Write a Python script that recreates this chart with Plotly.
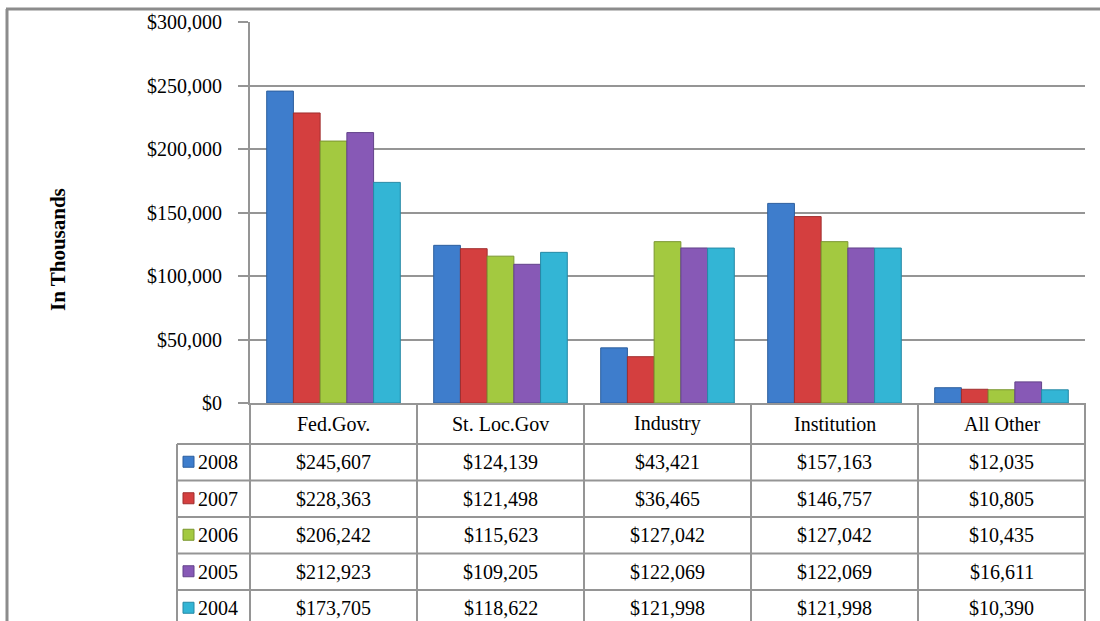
import plotly.graph_objects as go

categories = ["Fed.Gov.", "St. Loc.Gov", "Industry", "Institution", "All Other"]
years = ["2008", "2007", "2006", "2005", "2004"]
values_2008 = [245607, 124139, 43421, 157163, 12035]
values_2007 = [228363, 121498, 36465, 146757, 10805]
values_2006 = [206242, 115623, 127042, 127042, 10435]
values_2005 = [212923, 109205, 122069, 122069, 16611]
values_2004 = [173705, 118622, 121998, 121998, 10390]
series = [values_2008, values_2007, values_2006, values_2005, values_2004]

bar_colors = ["#3e7dcc", "#d43f3f", "#a3c940", "#8759b6", "#33b5d5"]
edge_colors = ["#2d5f9e", "#a02e2e", "#7a962f", "#63438a", "#2689a6"]

W, H = 1100, 621
L, R, T, B = 250, 1085, 22, 403
GRID = "#959595"
FONT = "Liberation Serif"
FS = 20


def px_x(x):
    return (x - L) / (R - L)


def px_y(y):
    return (B - y) / (B - T)


fig = go.Figure()
for year, vals, col, edge in zip(years, series, bar_colors, edge_colors):
    fig.add_trace(go.Bar(
        x=categories, y=vals, name=year,
        marker=dict(color=col, line=dict(color=edge, width=1)),
    ))

shapes = []
ann = []

# outer frame
shapes.append(dict(type="line", xref="paper", yref="paper",
                   x0=px_x(7), x1=px_x(7), y0=px_y(H), y1=px_y(9),
                   line=dict(color="#8c8c8c", width=3)))
shapes.append(dict(type="line", xref="paper", yref="paper",
                   x0=px_x(6), x1=px_x(W), y0=px_y(9), y1=px_y(9),
                   line=dict(color="#8c8c8c", width=3)))

# data table grid
col_w = (R - L) / len(categories)
header_bottom = 444
row_h = 36.5
for k in range(len(categories) + 1):
    x = L + col_w * k
    shapes.append(dict(type="line", xref="paper", yref="paper",
                       x0=px_x(x), x1=px_x(x), y0=px_y(B), y1=px_y(H),
                       line=dict(color=GRID, width=2)))
shapes.append(dict(type="line", xref="paper", yref="paper",
                   x0=px_x(177), x1=px_x(177), y0=px_y(header_bottom), y1=px_y(H),
                   line=dict(color=GRID, width=2)))
for i in range(len(years)):
    y = header_bottom + row_h * i
    shapes.append(dict(type="line", xref="paper", yref="paper",
                       x0=px_x(177), x1=px_x(R), y0=px_y(y), y1=px_y(y),
                       line=dict(color=GRID, width=2)))

# header labels
for c in categories:
    ann.append(dict(x=c, xref="x", y=px_y((B + header_bottom) / 2), yref="paper",
                    xanchor="center", yanchor="middle",
                    text=c, showarrow=False, font=dict(family=FONT, size=FS, color="black")))

# rows
for i, (year, vals, col, edge) in enumerate(zip(years, series, bar_colors, edge_colors)):
    yc = header_bottom + row_h * i + row_h / 2
    for c, v in zip(categories, vals):
        ann.append(dict(x=c, xref="x", y=px_y(yc), yref="paper",
                        xanchor="center", yanchor="middle",
                        text=f"${v:,}", showarrow=False,
                        font=dict(family=FONT, size=FS, color="black")))
    shapes.append(dict(type="rect", xref="paper", yref="paper",
                       x0=px_x(183), x1=px_x(194), y0=px_y(yc + 5), y1=px_y(yc - 6),
                       fillcolor=col, line=dict(color=edge, width=1)))
    ann.append(dict(x=px_x(196), xref="paper", y=px_y(yc), yref="paper",
                    text=year, showarrow=False, xanchor="left", yanchor="middle",
                    font=dict(family=FONT, size=FS, color="black")))

# y axis title
ann.append(dict(x=px_x(58), xref="paper", y=px_y(250), yref="paper",
                xanchor="center", yanchor="middle",
                text="<b>In Thousands</b>", textangle=-90, showarrow=False,
                font=dict(family=FONT, size=21, color="black")))

fig.update_layout(
    width=W, height=H,
    margin=dict(l=L, r=W - R, t=T, b=H - B, autoexpand=False),
    paper_bgcolor="white", plot_bgcolor="white",
    barmode="group", bargap=0.2, bargroupgap=0,
    showlegend=False,
    font=dict(family=FONT, size=FS, color="black"),
    xaxis=dict(showticklabels=False, showgrid=False, zeroline=False,
               showline=True, linecolor=GRID, linewidth=2),
    yaxis=dict(range=[0, 300000], dtick=50000, tickprefix="$", tickformat=",d",
               showgrid=True, gridcolor=GRID, gridwidth=1.5,
               showline=True, linecolor=GRID, linewidth=2, zeroline=False,
               ticks="outside", ticklen=10, tickcolor=GRID, tickwidth=1.5,
               ticklabelstandoff=12,
               tickfont=dict(family=FONT, size=FS, color="black")),
    shapes=shapes,
    annotations=ann,
)

fig.write_html("out.html", config={"displayModeBar": False},
               post_script="document.body.style.margin='0';")
